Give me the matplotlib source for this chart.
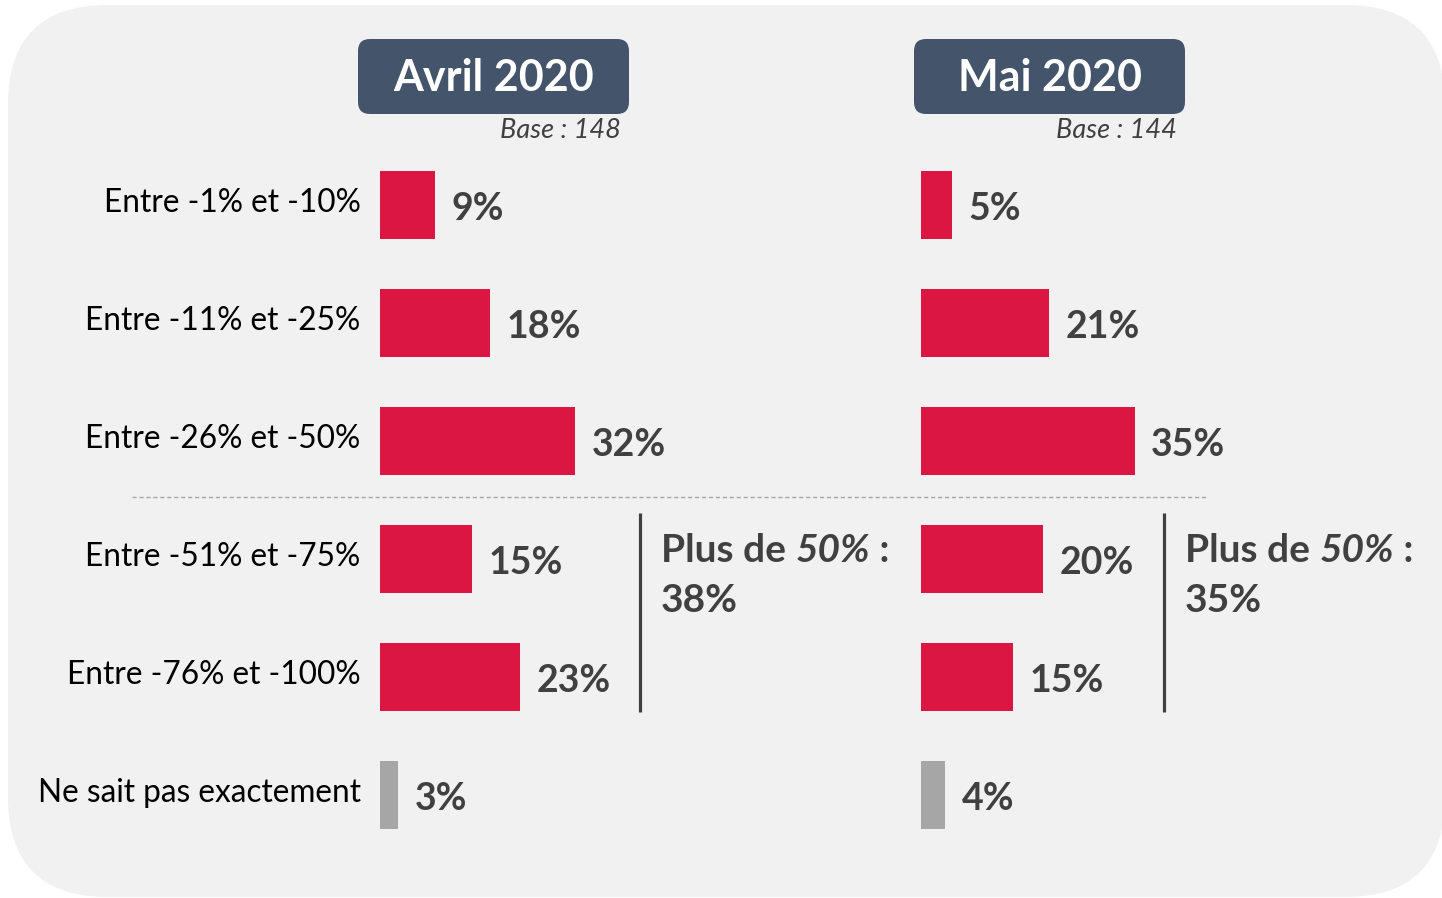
import matplotlib.pyplot as plt
from matplotlib.patches import FancyBboxPatch

# data
categories = ["Entre -1% et -10%", "Entre -11% et -25%", "Entre -26% et -50%",
              "Entre -51% et -75%", "Entre -76% et -100%", "Ne sait pas exactement"]
avril = [9, 18, 32, 15, 23, 3]
mai = [5, 21, 35, 20, 15, 4]
periods = ["Avril 2020", "Mai 2020"]
bases = ["Base : 148", "Base : 144"]
plus50 = [38, 35]

RED = "#db1642"
GREY = "#a6a6a6"
DARK = "#404040"
HEAD = "#44546a"
FONT = "Lato"

plt.rcParams['font.family'] = [FONT, 'DejaVu Sans']

W, H = 1442, 898
fig = plt.figure(figsize=(W / 100, H / 100), dpi=100)
fig.patch.set_facecolor("white")

# background layer in pixel units
bg = fig.add_axes([0, 0, 1, 1], zorder=0)
bg.set_xlim(0, W)
bg.set_ylim(H, 0)
bg.axis("off")
bg.add_patch(FancyBboxPatch((8, 5), 1437, 892, boxstyle="round,pad=0,rounding_size=100",
                            fc="#f1f1f1", ec="none"))

# separator between <=50% and >50%
bg.plot([132, 1207], [497, 497], color="#a6a6a6", lw=1, ls=(0, (3, 2)))

panel_left = [380, 921]
box_left = [358, 914]
px_per_pct = 6.1
row_px = 118
top_row = 205
ax_w = 520
ax_top = top_row - row_px / 2
ax_h = row_px * len(categories)

for i, (vals, period, base, tot) in enumerate(zip([avril, mai], periods, bases, plus50)):
    x0 = panel_left[i]
    ax = fig.add_axes([x0 / W, (H - ax_top - ax_h) / H, ax_w / W, ax_h / H], zorder=1)
    ax.set_xlim(0, ax_w / px_per_pct)
    ax.set_ylim(len(categories) - 0.5, -0.5)
    ax.axis("off")
    colors = [RED] * 5 + [GREY]
    ax.barh(range(len(vals)), vals, height=0.57, color=colors)
    for j, v in enumerate(vals):
        ax.annotate(f"{v}%", (v, j + 0.03), xytext=(12, 0), textcoords="offset points",
                    ha="left", va="center", fontsize=27, fontweight="bold", color=DARK)
    if i == 0:
        for j, c in enumerate(categories):
            ax.annotate(c, (0, j - 0.02), xytext=(-14, 0), textcoords="offset points",
                        ha="right", va="center", fontsize=22.8, color="black")

    # header box
    bx = box_left[i]
    bg.add_patch(FancyBboxPatch((bx, 39), 271, 75, boxstyle="round,pad=0,rounding_size=12",
                                fc=HEAD, ec="none"))
    bg.text(bx + 135.5, 78, period, ha="center", va="center", fontsize=31,
            fontweight="bold", color="white")
    bg.text(bx + 263, 131, base, ha="right", va="center", fontsize=19.5,
            fontstyle="italic", color=DARK)

    # bracket for > 50%
    lx = [640, 1164][i]
    bg.plot([lx, lx], [513, 712], color=DARK, lw=2.3, solid_capstyle="butt")
    t1 = bg.text(lx + 21, 551, "Plus de ", ha="left", va="center", fontsize=28,
                 fontweight="bold", color=DARK)
    t2 = bg.annotate("50%", xy=(1, 0), xycoords=t1, ha="left", va="bottom", fontsize=28,
                     fontweight="bold", fontstyle="italic", color=DARK)
    bg.annotate(" :", xy=(1, 0), xycoords=t2, ha="left", va="bottom", fontsize=28,
                fontweight="bold", color=DARK)
    bg.text(lx + 21, 601, f"{tot}%", ha="left", va="center", fontsize=28,
            fontweight="bold", color=DARK)

fig.savefig("out.png", dpi=100)
